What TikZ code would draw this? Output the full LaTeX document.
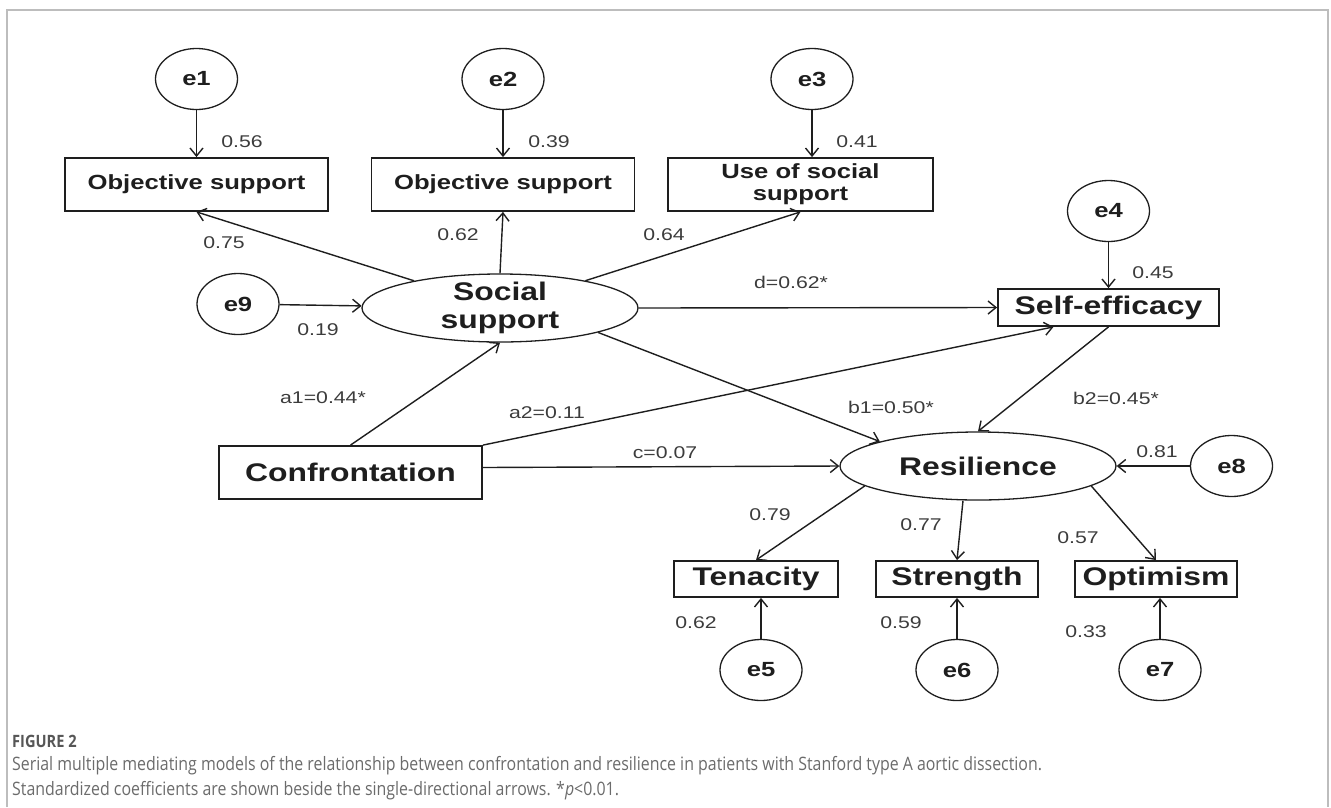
\documentclass[tikz,border=0pt]{standalone}
\usepackage{fontspec}
\usepackage{tikz}
\usetikzlibrary{positioning,shapes.geometric,arrows.meta}
\newfontfamily\semfont[FakeStretch=1.25]{Liberation Sans}
\newfontfamily\capfont[FakeStretch=0.86]{Open Sans}
\newcommand\semsmall{\semfont\bfseries\fontsize{20.5}{22}\selectfont}
\newcommand\sembig{\semfont\bfseries\fontsize{25.5}{28}\selectfont}
\newcommand\semnum{\semfont\fontsize{17}{19}\selectfont}
\definecolor{framegray}{HTML}{BDBDBD}
\definecolor{inkgray}{HTML}{1E1E1E}
\definecolor{numgray}{HTML}{3C3C3C}
\definecolor{capgray}{HTML}{6B6B6B}

\begin{document}
\begin{tikzpicture}[x=1pt,y=-1pt,on grid,auto,
    >={Straight Barb[length=8pt,width=13pt]},
    obs/.style={draw=inkgray,rectangle,line width=1.8pt,inner sep=0pt,text=inkgray},
    ind/.style={obs,minimum width=263pt,minimum height=53pt,font=\semsmall},
    var/.style={obs,minimum height=36pt,font=\sembig},
    latent/.style={draw=inkgray,ellipse,line width=1.3pt,minimum width=276pt,minimum height=68pt,inner sep=0pt,font=\sembig,text=inkgray},
    err/.style={draw=inkgray,ellipse,line width=1.3pt,minimum width=82pt,minimum height=61pt,inner sep=0pt,font=\semsmall,text=inkgray},
    coef/.style={font=\semnum,text=numgray,inner sep=0pt},
    semarrow/.style={->,line width=1.4pt,draw=inkgray}]
    \useasboundingbox (0,0) rectangle (1331,807);
    \draw[framegray,line width=1.2pt] (7,807) -- (7,10) -- (1328,10) -- (1328,807);

    % measured variables, top row
    \node[ind] (objA) at (196.5,184.5) {Objective support};
    \node[ind] (objB) at (503,184.5) {Objective support};
    \node[ind,minimum width=265pt,align=center] (useSS) at (800.5,184.5) {Use of social\\support};
    \node[err,above=105.5pt of objA] (e1) {e1};
    \node[err,above=105.5pt of objB] (e2) {e2};
    \node[err,above=105.5pt of useSS,xshift=11.5pt] (e3) {e3};

    % latent and mediators
    \node[latent,label={[font=\sembig,text=inkgray,align=center]center:Social\\support}] (soc) at (500,308) {};
    \node[err,left=262pt of soc,yshift=4pt] (e9) {e9};
    \node[var,minimum width=221pt,minimum height=37pt] (self) at (1108.5,307.5) {Self-efficacy};
    \node[err,above=96.5pt of self] (e4) {e4};
    \node[var,minimum width=263pt,minimum height=53pt] (conf) at (350.5,472.5) {Confrontation};
    \node[latent] (res) at (978,466) {Resilience};
    \node[err,right=253.5pt of res] (e8) {e8};

    % resilience indicators
    \node[var,minimum width=164pt] (ten) at (756,579) {Tenacity};
    \node[var,minimum width=162pt,right=201pt of ten] (str) {Strength};
    \node[var,minimum width=162pt,right=199pt of str] (opt) {Optimism};
    \node[err,below=91pt of ten,xshift=5pt] (e5) {e5};
    \node[err,below=91pt of str] (e6) {e6};
    \node[err,below=91pt of opt,xshift=4pt] (e7) {e7};

    \path[every edge/.append style={semarrow}]
        (e1) edge (e1 |- objA.north)
        (e2) edge (e2 |- objB.north)
        (e3) edge (e3 |- useSS.north)
        (e4) edge (e4 |- self.north)
        (soc) edge (objA.south)
        (soc.north) edge (objB.south)
        (soc) edge (useSS.south)
        (e9) edge (soc)
        (soc.east) edge (self.west)
        (conf.north) edge (soc.south)
        (conf.north east) edge ([xshift=-55pt]self.south)
        ([yshift=5pt]conf.east) edge (res.west)
        (soc.346) edge (res.166)
        (self.south) edge (res.north)
        (e8) edge (res)
        (res.190) edge (ten.north)
        ([xshift=-15pt]res.south) edge (str.north)
        (res.350) edge (opt.north)
        (e5) edge (e5 |- ten.south)
        (e6) edge (e6 |- str.south)
        (e7) edge (e7 |- opt.south);

    % coefficients
    \node[coef] (k1) at (242,142) {0.56};
    \node[coef] (k2) at (549,142) {0.39};
    \node[coef] (k3) at (857,142) {0.41};
    \node[coef] (k4) at (224,243) {0.75};
    \node[coef] (k5) at (458,235) {0.62};
    \node[coef] (k6) at (664,235) {0.64};
    \node[coef] (kd) at (791,282) {d=0.62*};
    \node[coef] (k7) at (1153,273) {0.45};
    \node[coef] (k8) at (318,330) {0.19};
    \node[coef] (ka1) at (323,398) {a1=0.44*};
    \node[coef] (ka2) at (547,413) {a2=0.11};
    \node[coef] (kc) at (665,453) {c=0.07};
    \node[coef] (kb1) at (891,407) {b1=0.50*};
    \node[coef] (kb2) at (1116,398) {b2=0.45*};
    \node[coef] (k9) at (1157,452) {0.81};
    \node[coef] (k10) at (770,515) {0.79};
    \node[coef] (k11) at (921,525) {0.77};
    \node[coef] (k12) at (1078,538) {0.57};
    \node[coef] (k13) at (696,623) {0.62};
    \node[coef] (k14) at (901,623) {0.59};
    \node[coef] (k15) at (1086,632) {0.33};

    % caption
    \node[anchor=west,inner sep=0pt,font=\capfont\fontsize{17}{19}\selectfont\bfseries,text=capgray!80!black] (figlbl) at (12,741) {FIGURE 2};
    \node[anchor=west,inner sep=0pt,font=\capfont\fontsize{18.5}{20}\selectfont,text=capgray] (capA) at (12,766) {Serial multiple mediating models of the relationship between confrontation and resilience in patients with Stanford type A aortic dissection.};
    \node[anchor=west,inner sep=0pt,font=\capfont\fontsize{18.5}{20}\selectfont,text=capgray] (capB) at (12,791) {Standardized coefficients are shown beside the single-directional arrows. *\textit{p}<0.01.};
\end{tikzpicture}
\end{document}
